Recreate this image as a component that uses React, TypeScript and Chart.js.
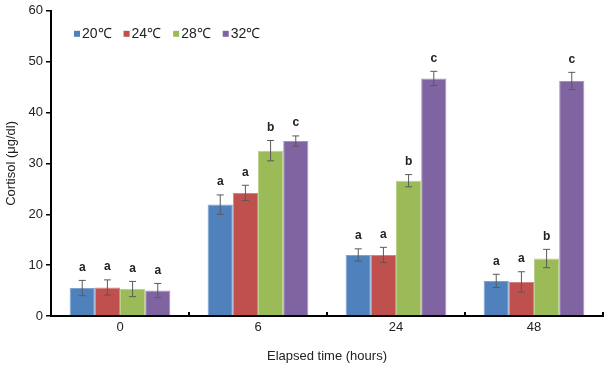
import React, { useEffect, useRef } from 'react';
import { Chart, registerables } from 'chart.js';

Chart.register(...registerables);

const categories = ['0', '6', '24', '48'];
const seriesNames = ['20℃', '24℃', '28℃', '32℃'];
const values20 = [5.5, 21.9, 12.0, 6.9];
const values24 = [5.6, 24.2, 12.0, 6.7];
const values28 = [5.3, 32.5, 26.6, 11.3];
const values32 = [5.0, 34.4, 46.7, 46.2];
const err20 = [1.5, 1.9, 1.2, 1.3];
const err24 = [1.5, 1.5, 1.5, 2.0];
const err28 = [1.5, 2.0, 1.2, 1.8];
const err32 = [1.4, 1.0, 1.4, 1.7];
const letters20 = ['a', 'a', 'a', 'a'];
const letters24 = ['a', 'a', 'a', 'a'];
const letters28 = ['a', 'b', 'b', 'b'];
const letters32 = ['a', 'c', 'c', 'c'];
const yTicks = [0, 10, 20, 30, 40, 50, 60];

const colors = ['#4F81BD', '#C0504D', '#9BBB59', '#8064A2'];
const borders = ['#7FA2CF', '#D48583', '#B8D08A', '#A590C0'];

const FONT = '"Liberation Sans", Arial, sans-serif';

const allValues = [values20, values24, values28, values32];
const allErrors = [err20, err24, err28, err32];
const allLetters = [letters20, letters24, letters28, letters32];

const overlayPlugin = {
  id: 'overlay',
  afterDatasetsDraw(chart: any) {
    const ctx = chart.ctx;
    const yScale = chart.scales.y;
    ctx.save();
    chart.data.datasets.forEach((ds: any, di: number) => {
      const meta = chart.getDatasetMeta(di);
      meta.data.forEach((bar: any, i: number) => {
        const v = allValues[di][i];
        const e = allErrors[di][i];
        const x = bar.x;
        const yTop = yScale.getPixelForValue(v + e);
        const yBot = yScale.getPixelForValue(v - e);
        ctx.strokeStyle = '#5a5a5a';
        ctx.lineWidth = 1;
        ctx.beginPath();
        ctx.moveTo(x, yTop);
        ctx.lineTo(x, yBot);
        ctx.moveTo(x - 3.5, yTop);
        ctx.lineTo(x + 3.5, yTop);
        ctx.moveTo(x - 3.5, yBot);
        ctx.lineTo(x + 3.5, yBot);
        ctx.stroke();
        ctx.fillStyle = '#222';
        ctx.font = 'bold 12px ' + FONT;
        ctx.textAlign = 'center';
        ctx.textBaseline = 'middle';
        ctx.fillText(allLetters[di][i], x, yTop - 13);
      });
    });
    ctx.restore();
  },
  afterDraw(chart: any) {
    const ctx = chart.ctx;
    const area = chart.chartArea;
    const xScale = chart.scales.x;
    ctx.save();
    // category boundary tick marks
    const n = categories.length;
    const step = (area.right - area.left) / n;
    ctx.strokeStyle = '#000';
    ctx.lineWidth = 2;
    for (let i = 1; i <= n; i++) {
      const bx = xScale.getPixelForValue(i - 1) + step / 2;
      ctx.beginPath();
      ctx.moveTo(bx, area.bottom);
      ctx.lineTo(bx, area.bottom - 4);
      ctx.stroke();
    }
    // legend
    ctx.font = '14px ' + FONT;
    ctx.textBaseline = 'middle';
    ctx.textAlign = 'left';
    let lx = area.left + 23;
    const ly = area.top + 23;
    seriesNames.forEach((name, i) => {
      ctx.fillStyle = colors[i];
      ctx.fillRect(lx, ly - 3, 6, 6);
      ctx.fillStyle = '#222';
      ctx.fillText(name, lx + 8, ly);
      lx += 8 + ctx.measureText(name).width + 12;
    });
    ctx.restore();
  },
};

export default function App() {
  const ref = useRef<HTMLCanvasElement | null>(null);
  useEffect(() => {
    document.body.style.margin = '0';
    if (!ref.current) return;
    const chart = new Chart(ref.current, {
      type: 'bar',
      data: {
        labels: categories,
        datasets: seriesNames.map((name, i) => ({
          label: name,
          data: allValues[i],
          backgroundColor: colors[i],
          borderColor: borders[i],
          borderWidth: 1,
          categoryPercentage: 0.73,
          barPercentage: 1,
        })),
      },
      options: {
        animation: false,
        responsive: false,
        layout: { padding: { top: 10, right: 2, left: 0, bottom: 0 } },
        plugins: {
          legend: { display: false },
          tooltip: { enabled: false },
        },
        scales: {
          x: {
            grid: { display: false, drawTicks: false },
            border: { display: true, color: '#000', width: 2 },
            ticks: { color: '#222', font: { family: FONT, size: 13 }, padding: 4 },
            title: {
              display: true,
              text: 'Elapsed time (hours)',
              color: '#222',
              font: { family: FONT, size: 13 },
              padding: { top: 0, bottom: 3 },
            },
            afterFit: (s: any) => {
              s.height = 51;
            },
          },
          y: {
            min: 0,
            max: 60,
            afterBuildTicks: (s: any) => {
              s.ticks = yTicks.map((v) => ({ value: v }));
            },
            grid: { drawOnChartArea: false, drawTicks: true, tickLength: 5, color: '#000', lineWidth: 1.5 },
            border: { display: true, color: '#000', width: 2 },
            ticks: { color: '#222', font: { family: FONT, size: 13 }, padding: 3 },
            title: {
              display: true,
              text: 'Cortisol (μg/dl)',
              color: '#222',
              font: { family: FONT, size: 13 },
              padding: { top: 4, bottom: 0 },
            },
            afterFit: (s: any) => {
              s.width = 51;
            },
          },
        },
      },
      plugins: [overlayPlugin],
    });
    return () => chart.destroy();
  }, []);
  return (
    <div style={{ width: 605, height: 367 }}>
      <canvas ref={ref} width={605} height={367} style={{ display: 'block' }} />
    </div>
  );
}
